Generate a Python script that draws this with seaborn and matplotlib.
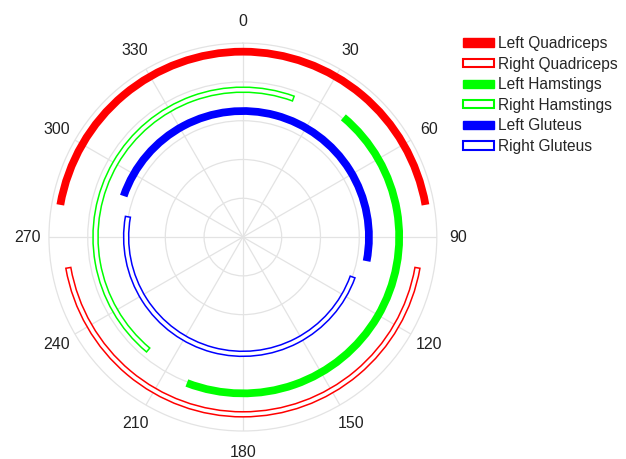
import numpy as np
import seaborn as sns
from matplotlib import pyplot as plt
from matplotlib.patches import Patch

# arcs: start / end angle in degrees (clockwise from top), radius
muscles = ['Left Quadriceps', 'Right Quadriceps', 'Left Hamstings',
           'Right Hamstings', 'Left Gluteus', 'Right Gluteus']
start_deg = [280, 100, 40, 220, 289, 110]
end_deg = [80, 260, 201, 20, 101, 280]
radius = [4.78, 4.57, 4.03, 3.8, 3.25, 3.01]
filled = [True, False, True, False, True, False]
colors = ['#ff0000', '#ff0000', '#00ff00', '#00ff00', '#0000ff', '#0000ff']
angle_ticks = list(range(0, 360, 30))

sns.set_theme(style='white')
plt.rcParams['font.family'] = ['Liberation Sans', 'DejaVu Sans']

fig = plt.figure(figsize=(6.26, 4.59), dpi=100)
ax = fig.add_axes([0.078, 0.061, 0.62, 0.845], projection='polar')
ax.set_theta_zero_location('N')
ax.set_theta_direction(-1)

handles = []
for name, s, e, r, f, c in zip(muscles, start_deg, end_deg, radius, filled, colors):
    span = (e - s) % 360
    mid = np.deg2rad(s + span / 2)
    if f:
        h = 0.2
        ax.bar(mid, h, width=np.deg2rad(span), bottom=r - h / 2,
               color=c, edgecolor='none', zorder=3)
        handles.append(Patch(facecolor=c, edgecolor=c, label=name))
    else:
        h = 0.13
        ax.bar(mid, h, width=np.deg2rad(span), bottom=r - h / 2,
               facecolor='white', edgecolor=c, linewidth=1.1, zorder=3)
        handles.append(Patch(facecolor='white', edgecolor=c, linewidth=1.5, label=name))

ax.set_ylim(0, 5)
ax.set_yticks([1, 2, 3, 4])
ax.set_yticklabels([])
ax.set_xticks(np.deg2rad(angle_ticks))
ax.set_xticklabels([str(a) for a in angle_ticks], fontsize=11.5, color='#222222')
ax.tick_params(axis='x', pad=2.5)
ax.grid(True, color='#e3e3e3', linewidth=0.9)
ax.spines['polar'].set_color('#e3e3e3')
ax.spines['polar'].set_linewidth(0.9)

fig.legend(handles=handles, loc='upper left', bbox_to_anchor=(0.73, 0.935),
           frameon=False, fontsize=11.2, handlelength=1.95, handleheight=0.42,
           handletextpad=0.3, labelspacing=0.36, borderaxespad=0)

fig.savefig('out.png', dpi=100)
